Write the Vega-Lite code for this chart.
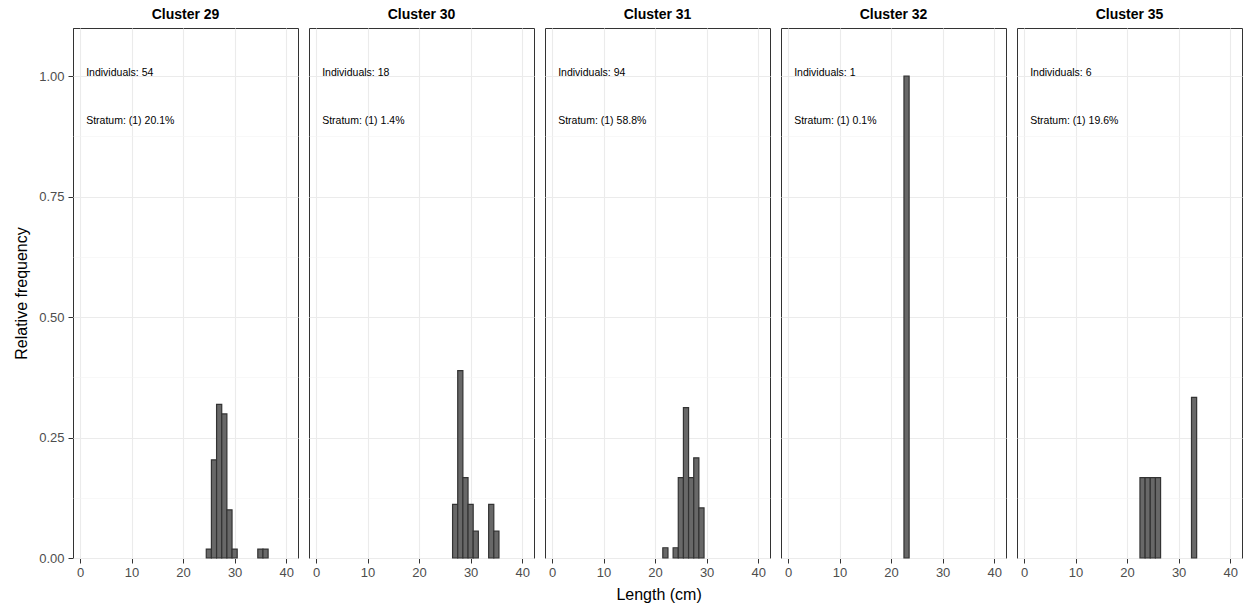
{
  "$schema": "https://vega.github.io/schema/vega-lite/v6.json",
  "padding": {"left": 13, "top": 8, "right": 4, "bottom": 5},
  "background": "white",
  "data": {"values": [
    {"type": "bar", "cluster": "Cluster 29", "length": 25, "from": 24.5, "to": 25.5, "freq": 0.0185},
    {"type": "bar", "cluster": "Cluster 29", "length": 26, "from": 25.5, "to": 26.5, "freq": 0.2037},
    {"type": "bar", "cluster": "Cluster 29", "length": 27, "from": 26.5, "to": 27.5, "freq": 0.3190},
    {"type": "bar", "cluster": "Cluster 29", "length": 28, "from": 27.5, "to": 28.5, "freq": 0.2990},
    {"type": "bar", "cluster": "Cluster 29", "length": 29, "from": 28.5, "to": 29.5, "freq": 0.1000},
    {"type": "bar", "cluster": "Cluster 29", "length": 30, "from": 29.5, "to": 30.5, "freq": 0.0185},
    {"type": "bar", "cluster": "Cluster 29", "length": 35, "from": 34.5, "to": 35.5, "freq": 0.0185},
    {"type": "bar", "cluster": "Cluster 29", "length": 36, "from": 35.5, "to": 36.5, "freq": 0.0185},
    {"type": "bar", "cluster": "Cluster 30", "length": 27, "from": 26.5, "to": 27.5, "freq": 0.1111},
    {"type": "bar", "cluster": "Cluster 30", "length": 28, "from": 27.5, "to": 28.5, "freq": 0.3889},
    {"type": "bar", "cluster": "Cluster 30", "length": 29, "from": 28.5, "to": 29.5, "freq": 0.1667},
    {"type": "bar", "cluster": "Cluster 30", "length": 30, "from": 29.5, "to": 30.5, "freq": 0.1111},
    {"type": "bar", "cluster": "Cluster 30", "length": 31, "from": 30.5, "to": 31.5, "freq": 0.0556},
    {"type": "bar", "cluster": "Cluster 30", "length": 34, "from": 33.5, "to": 34.5, "freq": 0.1111},
    {"type": "bar", "cluster": "Cluster 30", "length": 35, "from": 34.5, "to": 35.5, "freq": 0.0556},
    {"type": "bar", "cluster": "Cluster 31", "length": 22, "from": 21.5, "to": 22.5, "freq": 0.0213},
    {"type": "bar", "cluster": "Cluster 31", "length": 24, "from": 23.5, "to": 24.5, "freq": 0.0213},
    {"type": "bar", "cluster": "Cluster 31", "length": 25, "from": 24.5, "to": 25.5, "freq": 0.1670},
    {"type": "bar", "cluster": "Cluster 31", "length": 26, "from": 25.5, "to": 26.5, "freq": 0.3120},
    {"type": "bar", "cluster": "Cluster 31", "length": 27, "from": 26.5, "to": 27.5, "freq": 0.1670},
    {"type": "bar", "cluster": "Cluster 31", "length": 28, "from": 27.5, "to": 28.5, "freq": 0.2080},
    {"type": "bar", "cluster": "Cluster 31", "length": 29, "from": 28.5, "to": 29.5, "freq": 0.1040},
    {"type": "bar", "cluster": "Cluster 32", "length": 23, "from": 22.5, "to": 23.5, "freq": 1.0},
    {"type": "bar", "cluster": "Cluster 35", "length": 23, "from": 22.5, "to": 23.5, "freq": 0.1667},
    {"type": "bar", "cluster": "Cluster 35", "length": 24, "from": 23.5, "to": 24.5, "freq": 0.1667},
    {"type": "bar", "cluster": "Cluster 35", "length": 25, "from": 24.5, "to": 25.5, "freq": 0.1667},
    {"type": "bar", "cluster": "Cluster 35", "length": 26, "from": 25.5, "to": 26.5, "freq": 0.1667},
    {"type": "bar", "cluster": "Cluster 35", "length": 33, "from": 32.5, "to": 33.5, "freq": 0.3333},
    {"type": "text", "cluster": "Cluster 29", "individuals": "Individuals: 54", "stratum": "Stratum: (1) 20.1%"},
    {"type": "text", "cluster": "Cluster 30", "individuals": "Individuals: 18", "stratum": "Stratum: (1) 1.4%"},
    {"type": "text", "cluster": "Cluster 31", "individuals": "Individuals: 94", "stratum": "Stratum: (1) 58.8%"},
    {"type": "text", "cluster": "Cluster 32", "individuals": "Individuals: 1", "stratum": "Stratum: (1) 0.1%"},
    {"type": "text", "cluster": "Cluster 35", "individuals": "Individuals: 6", "stratum": "Stratum: (1) 19.6%"}
  ]},
  "title": {"text": "Length (cm)", "orient": "bottom", "anchor": "middle", "fontSize": 16, "fontWeight": "normal", "font": "Liberation Sans", "color": "black", "offset": 8, "dx": 31},
  "facet": {"column": {"field": "cluster", "type": "nominal", "header": {"title": null, "labelFontWeight": "bold", "labelFontSize": 14, "labelColor": "black", "labelFont": "Liberation Sans", "labelPadding": 6}}},
  "spacing": 11,
  "bounds": "flush",
  "spec": {
    "width": 225,
    "height": 530,
    "layer": [
      {
        "transform": [{"filter": "datum.type === 'bar'"}],
        "mark": {"type": "rect", "fill": "#686868", "stroke": "#333333", "strokeWidth": 1.2},
        "encoding": {
          "x": {"field": "from", "type": "quantitative", "title": null,
            "scale": {"domain": [-1.36, 42.3], "nice": false, "zero": false},
            "axis": {"values": [0, 5, 10, 15, 20, 25, 30, 35, 40], "labelExpr": "datum.value % 10 === 0 ? datum.label : ''", "format": "d",
              "tickSize": {"condition": {"test": "datum.value % 10 === 0", "value": 5}, "value": 0},
              "gridColor": {"condition": {"test": "datum.value % 10 === 0", "value": "#ebebeb"}, "value": "#f3f3f3"},
              "gridWidth": {"condition": {"test": "datum.value % 10 === 0", "value": 1.1}, "value": 0.6}}},
          "x2": {"field": "to"},
          "y": {"field": "freq", "type": "quantitative", "title": "Relative frequency",
            "scale": {"domain": [0, 1.1], "nice": false},
            "axis": {"values": [0, 0.125, 0.25, 0.375, 0.5, 0.625, 0.75, 0.875, 1.0], "labelExpr": "(datum.value * 4) % 1 === 0 ? format(datum.value, '.2f') : ''",
              "labelPadding": 4,
              "tickSize": {"condition": {"test": "(datum.value * 4) % 1 === 0", "value": 5}, "value": 0},
              "gridColor": {"condition": {"test": "(datum.value * 4) % 1 === 0", "value": "#ebebeb"}, "value": "#f3f3f3"},
              "gridWidth": {"condition": {"test": "(datum.value * 4) % 1 === 0", "value": 1.1}, "value": 0.6}}},
          "y2": {"datum": 0}
        }
      },
      {
        "transform": [{"filter": "datum.type === 'text'"}],
        "mark": {"type": "text", "align": "left", "baseline": "middle", "fontSize": 10.5, "font": "Liberation Sans", "color": "black", "dy": -3},
        "encoding": {
          "x": {"datum": 1.2, "type": "quantitative"},
          "y": {"datum": 1.0, "type": "quantitative"},
          "text": {"field": "individuals"}
        }
      },
      {
        "transform": [{"filter": "datum.type === 'text'"}],
        "mark": {"type": "text", "align": "left", "baseline": "middle", "fontSize": 10.5, "font": "Liberation Sans", "color": "black", "dy": -3},
        "encoding": {
          "x": {"datum": 1.2, "type": "quantitative"},
          "y": {"datum": 0.9, "type": "quantitative"},
          "text": {"field": "stratum"}
        }
      }
    ]
  },
  "config": {
    "view": {"stroke": "#333333", "strokeWidth": 1},
    "font": "Liberation Sans",
    "axis": {"domain": true, "domainColor": "#333333", "domainWidth": 1, "labelFontSize": 13, "labelColor": "#4d4d4d", "labelFont": "Liberation Sans", "labelPadding": 3, "tickColor": "#333333", "titleFontSize": 16, "titleFontWeight": "normal", "titleColor": "black", "titleFont": "Liberation Sans", "titlePadding": 9, "labelFlush": false, "labelOverlap": false}
  }
}
